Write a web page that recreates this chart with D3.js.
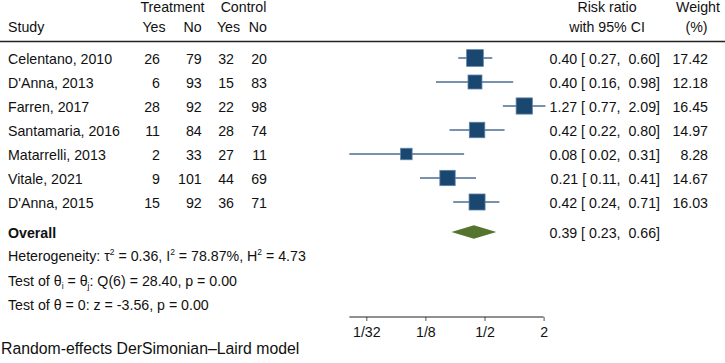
<!DOCTYPE html>
<html><head><meta charset="utf-8">
<script src="https://cdn.jsdelivr.net/npm/d3@7"></script>
<style>
body{margin:0;background:#fff}
svg text{font-family:"Liberation Sans",Arial,Helvetica,sans-serif;font-size:14.2px;fill:#111;white-space:pre}
</style>
</head><body><svg id="c" width="725" height="363"></svg>
<script>
const studies = ["Celentano, 2010","D'Anna, 2013","Farren, 2017","Santamaria, 2016","Matarrelli, 2013","Vitale, 2021","D'Anna, 2015"];
const trtYes = [26,6,28,11,2,9,15];
const trtNo  = [79,93,92,84,33,101,92];
const ctlYes = [32,15,22,28,27,44,36];
const ctlNo  = [20,83,98,74,11,69,71];
const rr     = [0.40,0.40,1.27,0.42,0.08,0.21,0.42];
const lo     = [0.27,0.16,0.77,0.22,0.021,0.11,0.24];
const hi     = [0.60,0.98,2.09,0.80,0.31,0.41,0.71];
const weight = [17.42,12.18,16.45,14.97,8.28,14.67,16.03];
const overallRR = [0.39,0.23,0.66];
const xTicks = [1/32,1/8,1/2,2];
const xTickLabels = ["1/32","1/8","1/2","2"];
const hetParts = ["Heterogeneity: τ","2"," = 0.36, I","2"," = 78.87%, H","2"," = 4.73"];

const svg = d3.select("#c");
const f2 = d3.format(".2f");
const x = d3.scaleLog().base(2).domain([1/32, 2]).range([366.3, 543.6]);
const y = d3.scalePoint().domain(studies).range([58, 202]);
const yOverall = 232;
const size = d3.scaleSqrt().domain([0, d3.max(weight)]).range([0, 16.7]);
const base = 6.3;

// headers
const hdr = [
  {t:"Treatment", x:172.5, y:12, a:"middle"},
  {t:"Control", x:243.5, y:12, a:"middle"},
  {t:"Study", x:8, y:32, a:"start"},
  {t:"Yes", x:154, y:32, a:"middle"},
  {t:"No", x:201.7, y:32, a:"end"},
  {t:"Yes", x:228.5, y:32, a:"middle"},
  {t:"No", x:267, y:32, a:"end"},
  {t:"Risk ratio", x:607, y:12, a:"middle"},
  {t:"with 95% CI", x:607, y:32, a:"middle"},
  {t:"Weight", x:698, y:12, a:"middle"},
  {t:"(%)", x:696.5, y:32, a:"middle"}
];
svg.selectAll("text.hdr").data(hdr).join("text").attr("class","hdr")
  .attr("x",d=>d.x).attr("y",d=>d.y).attr("text-anchor",d=>d.a).text(d=>d.t);

svg.append("line").attr("x1",0).attr("x2",725).attr("y1",41.5).attr("y2",41.5)
  .attr("stroke","#222").attr("stroke-width",1.4);

// table columns
const cols = [
  {vals:studies, x:8, a:"start"},
  {vals:trtYes, x:160, a:"end"},
  {vals:trtNo, x:201.7, a:"end"},
  {vals:ctlYes, x:234, a:"end"},
  {vals:ctlNo, x:267, a:"end"},
  {vals:studies.map((s,i)=>`${f2(rr[i])} [ ${f2(lo[i])},  ${f2(hi[i])}]`), x:660, a:"end"},
  {vals:weight.map(w=>f2(w)), x:708, a:"end"}
];
cols.forEach(c=>{
  svg.append("g").selectAll("text").data(c.vals).join("text")
    .attr("x",c.x).attr("y",(d,i)=>y(studies[i])+base).attr("text-anchor",c.a).text(d=>d);
});

// CI lines
svg.append("g").selectAll("line").data(studies).join("line")
  .attr("x1",(d,i)=>x(lo[i])).attr("x2",(d,i)=>x(hi[i]))
  .attr("y1",d=>y(d)).attr("y2",d=>y(d))
  .attr("stroke","#4a6d93").attr("stroke-width",1.5);
// squares
svg.append("g").selectAll("rect").data(studies).join("rect")
  .attr("x",(d,i)=>x(rr[i])-size(weight[i])/2)
  .attr("y",(d,i)=>y(d)-size(weight[i])/2)
  .attr("width",(d,i)=>size(weight[i])).attr("height",(d,i)=>size(weight[i]))
  .attr("fill","#1a476f").attr("stroke","#5f82a8").attr("stroke-width",0.8);

// overall
svg.append("text").attr("x",8).attr("y",yOverall+base).attr("font-weight","bold").text("Overall");
svg.append("path")
  .attr("d",`M${x(overallRR[1])},${yOverall}L${x(overallRR[0])},${yOverall-6.7}L${x(overallRR[2])},${yOverall}L${x(overallRR[0])},${yOverall+6.7}Z`)
  .attr("fill","#55752f");
svg.append("text").attr("x",660).attr("y",yOverall+base).attr("text-anchor","end")
  .text(`${f2(overallRR[0])} [ ${f2(overallRR[1])},  ${f2(overallRR[2])}]`);

// heterogeneity
const t1 = svg.append("text").attr("x",8).attr("y",261);
hetParts.forEach((s,i)=>{
  if(i%2===1) t1.append("tspan").attr("font-size","8.5px").attr("dy",-6).text(s);
  else t1.append("tspan").attr("dy", i===0?0:6).text(s);
});
const t2 = svg.append("text").attr("x",8).attr("y",285.5);
t2.append("tspan").text("Test of θ");
t2.append("tspan").attr("font-size","8.5px").attr("dy",3).text("i");
t2.append("tspan").attr("dy",-3).text(" = θ");
t2.append("tspan").attr("font-size","8.5px").attr("dy",3).text("j");
t2.append("tspan").attr("dy",-3).text(": Q(6) = 28.40, p = 0.00");
svg.append("text").attr("x",8).attr("y",309.5).text("Test of θ = 0: z = -3.56, p = 0.00");

// axis
const ax = svg.append("g").attr("transform","translate(0,317)")
  .call(d3.axisBottom(x).tickValues(xTicks).tickFormat((d,i)=>xTickLabels[i]).tickSize(4).tickSizeOuter(0).tickPadding(6));
ax.select(".domain").remove();
ax.attr("font-size",null).attr("font-family",null);
ax.selectAll(".tick text").attr("fill","#111");
ax.selectAll(".tick line").attr("stroke","#555");
ax.append("line").attr("x1",x(d3.min(lo))).attr("x2",x(2)).attr("stroke","#222").attr("stroke-width",1.2);

svg.append("text").attr("x",1).attr("y",354).style("font-size","15.8px").text("Random-effects DerSimonian–Laird model");
</script></body></html>
